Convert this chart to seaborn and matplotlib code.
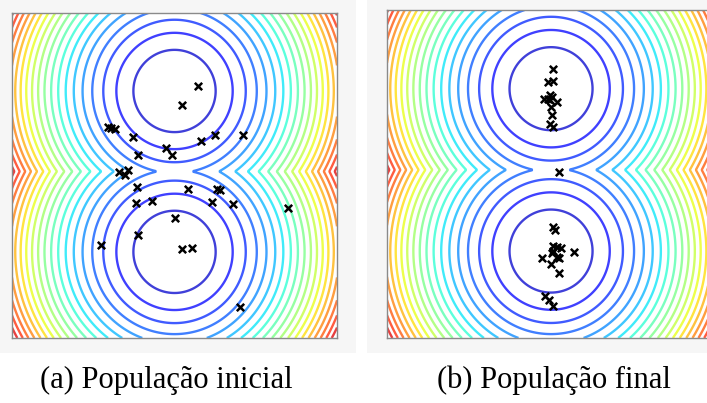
import numpy as np
import pandas as pd
import seaborn as sns
import matplotlib.pyplot as plt
from matplotlib.patches import Rectangle

# two minima of the objective (min of squared distances)
CENTER_X = [0.0, 0.0]
CENTER_Y = [2.6, -2.35]
DOMAIN = (-5, 5)
N_LEVELS = 20
COLOR_TOP = 34.0   # level that would reach the dark red end of jet

# initial population
init_x = [0.71, 0.215, -2.04, -1.94, -1.82, -1.28, -0.25, -0.07, -1.11, 0.81,
          1.26, 2.11, -1.70, -1.44, -1.52, -1.16, 0.43, 1.30, 1.41, -1.20,
          -0.70, 1.15, 1.79, 3.50, 0.03, -1.11, -2.25, 0.22, 0.53, 2.02]
init_y = [2.76, 2.17, 1.50, 1.46, 1.42, 1.19, 0.85, 0.64, 0.64, 1.05,
          1.26, 1.26, 0.10, 0.18, 0.00, -0.36, -0.41, -0.41, -0.46, -0.86,
          -0.78, -0.82, -0.87, -1.01, -1.32, -1.82, -2.14, -2.27, -2.22, -4.04]

# final population
final_x = [0.07, -0.08, 0.05, -0.20, -0.10, -0.03, 0.02, -0.03, 0.19, 0.00,
           0.04, -0.03, 0.05, 0.23, 0.05, 0.12, 0.05, 0.17, 0.30, 0.07,
           0.02, 0.19, 0.24, -0.28, 0.71, 0.00, 0.24, -0.18, -0.06, 0.05]
final_y = [3.19, 2.80, 2.84, 2.30, 2.28, 2.41, 2.34, 2.26, 2.20, 2.03,
           1.80, 1.52, 1.44, 0.05, -1.63, -1.71, -2.20, -2.24, -2.27, -2.34,
           -2.42, -2.52, -2.57, -2.55, -2.39, -2.74, -3.01, -3.72, -3.85, -4.01]

captions = ["(a) População inicial", "(b) População final"]

sns.set_style("white")

g = np.linspace(DOMAIN[0], DOMAIN[1], 400)
X, Y = np.meshgrid(g, g)
Z = np.minimum.reduce([(X - cx) ** 2 + (Y - cy) ** 2 for cx, cy in zip(CENTER_X, CENTER_Y)])
levels = np.linspace(0, Z.max(), N_LEVELS + 1)[1:-1]
line_colors = plt.get_cmap("jet")(np.clip(0.02 + levels / COLOR_TOP, 0, 0.93))

fig = plt.figure(figsize=(7.07, 4.03), dpi=100)

# faint grey boxes behind each panel
fig.patches.append(Rectangle((0, 0.124), 0.5035, 0.876, transform=fig.transFigure,
                             facecolor="#f6f6f6", edgecolor="none", zorder=-1))
fig.patches.append(Rectangle((0.519, 0.124), 0.481, 0.876, transform=fig.transFigure,
                             facecolor="#f6f6f6", edgecolor="none", zorder=-1))

ax_a = fig.add_axes([0.017, 0.1613, 0.4597, 0.8065])
ax_b = fig.add_axes([0.5474, 0.1613, 0.464, 0.814])

pops = [pd.DataFrame({"x": init_x, "y": init_y}),
        pd.DataFrame({"x": final_x, "y": final_y})]

for ax, pop in zip([ax_a, ax_b], pops):
    ax.set_facecolor("white")
    ax.contour(X, Y, Z, levels=levels, colors=line_colors, linewidths=1.7, alpha=0.75)
    sns.scatterplot(data=pop, x="x", y="y", ax=ax, marker="x", color="black",
                    s=28, linewidth=1.8, zorder=3)
    ax.set_xlim(*DOMAIN)
    ax.set_ylim(*DOMAIN)
    ax.set_xticks([])
    ax.set_yticks([])
    ax.set_xlabel("")
    ax.set_ylabel("")
    for sp in ax.spines.values():
        sp.set_color("#8a8a8a")
        sp.set_linewidth(1.0)

fig.text(166 / 707, 0.056, captions[0], ha="center", va="center", color="black",
         fontsize=22, family=["Liberation Serif", "DejaVu Serif"])
fig.text(554 / 707, 0.056, captions[1], ha="center", va="center", color="black",
         fontsize=22, family=["Liberation Serif", "DejaVu Serif"])

fig.savefig("out.png", dpi=100)
